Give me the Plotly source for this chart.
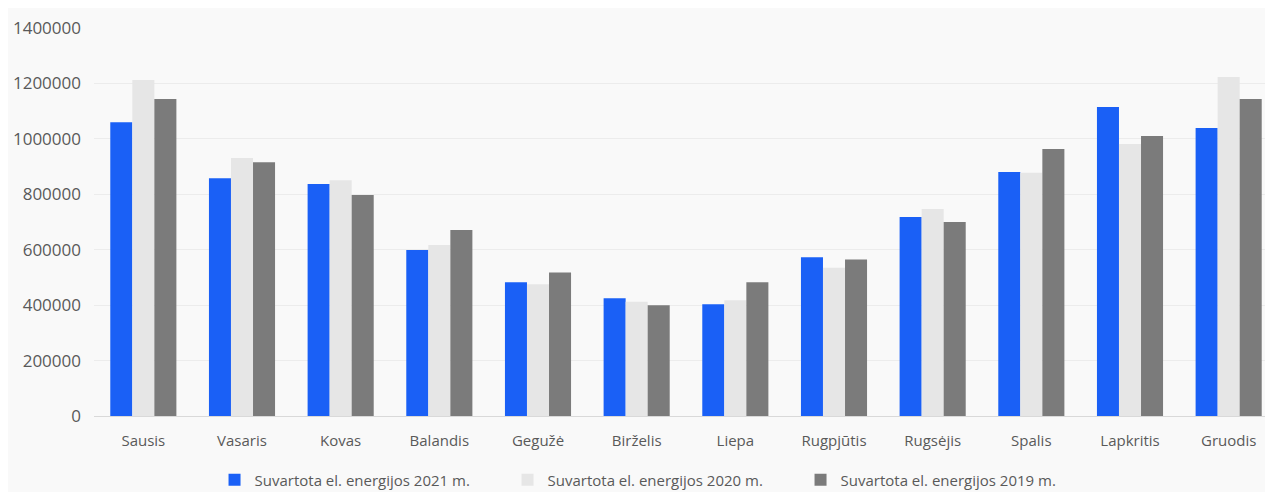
import plotly.graph_objects as go

months = ["Sausis", "Vasaris", "Kovas", "Balandis", "Gegužė", "Birželis",
          "Liepa", "Rugpjūtis", "Rugsėjis", "Spalis", "Lapkritis", "Gruodis"]
v2021 = [1060000, 858000, 837000, 599000, 483000, 425000, 403000, 573000, 718000, 880000, 1115000, 1039000]
v2020 = [1212000, 931000, 851000, 617000, 475000, 412000, 418000, 535000, 747000, 878000, 981000, 1223000]
v2019 = [1144000, 916000, 797000, 671000, 518000, 400000, 483000, 565000, 700000, 963000, 1010000, 1144000]
names = ["Suvartota el. energijos 2021 m.", "Suvartota el. energijos 2020 m.", "Suvartota el. energijos 2019 m."]
colors = ["#1a60f6", "#e6e6e6", "#7b7b7b"]
yticks = [0, 200000, 400000, 600000, 800000, 1000000, 1200000, 1400000]

fig = go.Figure()
for vals, nm, c in zip([v2021, v2020, v2019], names, colors):
    fig.add_trace(go.Bar(x=months, y=vals, name=nm, marker=dict(color=c, line=dict(width=0))))

fig.update_layout(
    width=1273, height=492,
    barmode="group", bargap=0.33, bargroupgap=0,
    paper_bgcolor="#f9f9f9", plot_bgcolor="#f9f9f9",
    margin=dict(l=86, r=3, t=20, b=84),
    font=dict(family="Open Sans, Liberation Sans, sans-serif", color="#595959", size=14),
    legend=dict(orientation="h", x=0.473, xanchor="center", y=-0.165, yanchor="middle",
                entrywidth=248, entrywidthmode="pixels",
                font=dict(size=15, color="#595959"), bgcolor="rgba(0,0,0,0)"),
    xaxis=dict(showgrid=False, showline=True, linecolor="#d9d9d9", ticks="",
               ticklabelstandoff=11, tickfont=dict(size=15, color="#595959")),
    yaxis=dict(range=[0, 1400000], tickvals=yticks, ticktext=[str(t) for t in yticks],
               showgrid=True, gridcolor="#ececec", zeroline=False, ticks="",
               ticklabelstandoff=12, tickfont=dict(size=17, color="#595959")),
)
fig.write_html("out.html")
